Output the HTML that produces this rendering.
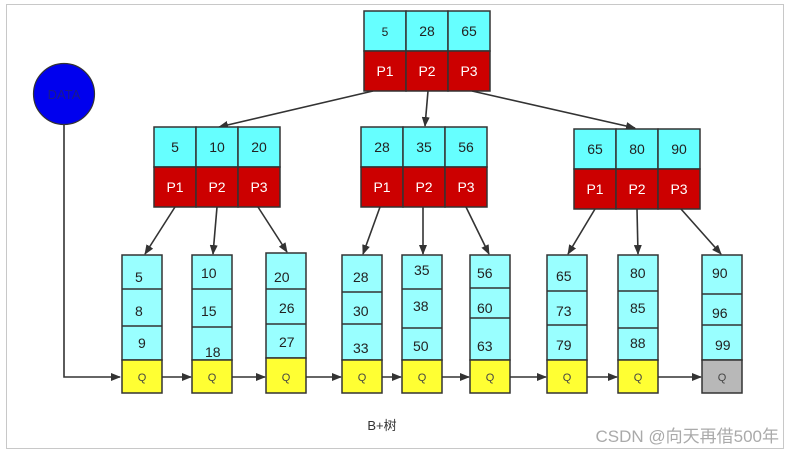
<!DOCTYPE html>
<html><head><meta charset="utf-8"><style>
html,body{margin:0;padding:0;background:#fff;}
svg{display:block;font-family:"Liberation Sans","DejaVu Sans",sans-serif;}
</style></head><body>
<svg width="795" height="455" viewBox="0 0 795 455" xmlns="http://www.w3.org/2000/svg">
<defs>
<marker id="a" markerWidth="10" markerHeight="8" refX="9" refY="4" orient="auto" markerUnits="userSpaceOnUse">
<path d="M0,0 L10,4 L0,8 z" fill="#333"/></marker>
</defs>
<rect x="6.5" y="4.5" width="777" height="444" fill="#fff" stroke="#c8c8c8"/>
<g stroke="#333" stroke-width="1.6" fill="none">
<path d="M64,125 V377 H120" marker-end="url(#a)"/>
<line x1="373" y1="91" x2="219" y2="127" marker-end="url(#a)"/>
<line x1="428" y1="91" x2="425" y2="126" marker-end="url(#a)"/>
<line x1="472" y1="91" x2="635" y2="128" marker-end="url(#a)"/>
<line x1="175" y1="207" x2="145" y2="254" marker-end="url(#a)"/>
<line x1="217" y1="207" x2="213" y2="254" marker-end="url(#a)"/>
<line x1="258" y1="207" x2="287" y2="252" marker-end="url(#a)"/>
<line x1="380" y1="207" x2="363" y2="254" marker-end="url(#a)"/>
<line x1="423" y1="207" x2="423" y2="254" marker-end="url(#a)"/>
<line x1="466" y1="207" x2="489" y2="254" marker-end="url(#a)"/>
<line x1="595" y1="209" x2="568" y2="254" marker-end="url(#a)"/>
<line x1="637" y1="209" x2="638" y2="254" marker-end="url(#a)"/>
<line x1="681" y1="209" x2="721" y2="254" marker-end="url(#a)"/>
<line x1="162" y1="377" x2="191" y2="377" marker-end="url(#a)"/>
<line x1="232" y1="377" x2="265" y2="377" marker-end="url(#a)"/>
<line x1="306" y1="377" x2="341" y2="377" marker-end="url(#a)"/>
<line x1="382" y1="377" x2="401" y2="377" marker-end="url(#a)"/>
<line x1="442" y1="377" x2="469" y2="377" marker-end="url(#a)"/>
<line x1="510" y1="377" x2="546" y2="377" marker-end="url(#a)"/>
<line x1="587" y1="377" x2="617" y2="377" marker-end="url(#a)"/>
<line x1="658" y1="377" x2="701" y2="377" marker-end="url(#a)"/>
</g>
<circle cx="64" cy="94" r="30.5" fill="#0000ee" stroke="#333" stroke-width="1.2"/>
<text x="64" y="99" font-size="13" fill="#1a1a8a" text-anchor="middle">DATA</text>

<g stroke="#333" stroke-width="1.5">
<!-- root -->
<rect x="364" y="11" width="42" height="40" fill="#66ffff"/><rect x="406" y="11" width="42" height="40" fill="#66ffff"/><rect x="448" y="11" width="42" height="40" fill="#66ffff"/>
<rect x="364" y="51" width="42" height="40" fill="#cc0000"/><rect x="406" y="51" width="42" height="40" fill="#cc0000"/><rect x="448" y="51" width="42" height="40" fill="#cc0000"/>
<!-- left -->
<rect x="154" y="127" width="42" height="40" fill="#66ffff"/><rect x="196" y="127" width="42" height="40" fill="#66ffff"/><rect x="238" y="127" width="42" height="40" fill="#66ffff"/>
<rect x="154" y="167" width="42" height="40" fill="#cc0000"/><rect x="196" y="167" width="42" height="40" fill="#cc0000"/><rect x="238" y="167" width="42" height="40" fill="#cc0000"/>
<!-- mid -->
<rect x="361" y="127" width="42" height="40" fill="#66ffff"/><rect x="403" y="127" width="42" height="40" fill="#66ffff"/><rect x="445" y="127" width="42" height="40" fill="#66ffff"/>
<rect x="361" y="167" width="42" height="40" fill="#cc0000"/><rect x="403" y="167" width="42" height="40" fill="#cc0000"/><rect x="445" y="167" width="42" height="40" fill="#cc0000"/>
<!-- right -->
<rect x="574" y="129" width="42" height="40" fill="#66ffff"/><rect x="616" y="129" width="42" height="40" fill="#66ffff"/><rect x="658" y="129" width="42" height="40" fill="#66ffff"/>
<rect x="574" y="169" width="42" height="40" fill="#cc0000"/><rect x="616" y="169" width="42" height="40" fill="#cc0000"/><rect x="658" y="169" width="42" height="40" fill="#cc0000"/>
</g>
<g font-size="14" text-anchor="middle" fill="#222">
<text x="385" y="36" font-size="12">5</text><text x="427" y="36">28</text><text x="469" y="36">65</text>
<text x="175" y="152">5</text><text x="217" y="152">10</text><text x="259" y="152">20</text>
<text x="382" y="152">28</text><text x="424" y="152">35</text><text x="466" y="152">56</text>
<text x="595" y="154">65</text><text x="637" y="154">80</text><text x="679" y="154">90</text>
</g>
<g font-size="14" text-anchor="middle" fill="#fff">
<text x="385" y="76">P1</text><text x="427" y="76">P2</text><text x="469" y="76">P3</text>
<text x="175" y="192">P1</text><text x="217" y="192">P2</text><text x="259" y="192">P3</text>
<text x="382" y="192">P1</text><text x="424" y="192">P2</text><text x="466" y="192">P3</text>
<text x="595" y="194">P1</text><text x="637" y="194">P2</text><text x="679" y="194">P3</text>
</g>

<!-- leaves -->
<g stroke="#333" stroke-width="1.5">
<rect x="122" y="255" width="40" height="105" fill="#99ffff"/><line x1="122" y1="289" x2="162" y2="289"/><line x1="122" y1="326" x2="162" y2="326"/><rect x="122" y="360" width="40" height="33" fill="#ffff33"/>
<rect x="192" y="255" width="40" height="105" fill="#99ffff"/><line x1="192" y1="289" x2="232" y2="289"/><line x1="192" y1="327" x2="232" y2="327"/><rect x="192" y="360" width="40" height="33" fill="#ffff33"/>
<rect x="266" y="253" width="40" height="105" fill="#99ffff"/><line x1="266" y1="289" x2="306" y2="289"/><line x1="266" y1="324" x2="306" y2="324"/><rect x="266" y="358" width="40" height="35" fill="#ffff33"/>
<rect x="342" y="255" width="40" height="105" fill="#99ffff"/><line x1="342" y1="292" x2="382" y2="292"/><line x1="342" y1="324" x2="382" y2="324"/><rect x="342" y="360" width="40" height="33" fill="#ffff33"/>
<rect x="402" y="255" width="40" height="105" fill="#99ffff"/><line x1="402" y1="289" x2="442" y2="289"/><line x1="402" y1="328" x2="442" y2="328"/><rect x="402" y="360" width="40" height="33" fill="#ffff33"/>
<rect x="470" y="255" width="40" height="105" fill="#99ffff"/><line x1="470" y1="288" x2="510" y2="288"/><line x1="470" y1="318" x2="510" y2="318"/><rect x="470" y="360" width="40" height="33" fill="#ffff33"/>
<rect x="547" y="255" width="40" height="105" fill="#99ffff"/><line x1="547" y1="291" x2="587" y2="291"/><line x1="547" y1="325" x2="587" y2="325"/><rect x="547" y="360" width="40" height="33" fill="#ffff33"/>
<rect x="618" y="255" width="40" height="105" fill="#99ffff"/><line x1="618" y1="291" x2="658" y2="291"/><line x1="618" y1="328" x2="658" y2="328"/><rect x="618" y="360" width="40" height="33" fill="#ffff33"/>
<rect x="702" y="255" width="40" height="105" fill="#99ffff"/><line x1="702" y1="294" x2="742" y2="294"/><line x1="702" y1="325" x2="742" y2="325"/><rect x="702" y="360" width="40" height="33" fill="#b8b8b8"/>
</g>
<g font-size="14" fill="#222">
<text x="135" y="282">5</text><text x="135" y="316">8</text><text x="138" y="348">9</text>
<text x="201" y="278">10</text><text x="201" y="316">15</text><text x="205" y="357">18</text>
<text x="274" y="282">20</text><text x="279" y="313">26</text><text x="279" y="347">27</text>
<text x="353" y="282">28</text><text x="353" y="316">30</text><text x="353" y="353">33</text>
<text x="414" y="275">35</text><text x="413" y="311">38</text><text x="413" y="351">50</text>
<text x="477" y="278">56</text><text x="477" y="313">60</text><text x="477" y="351">63</text>
<text x="556" y="281">65</text><text x="556" y="316">73</text><text x="556" y="350">79</text>
<text x="630" y="278">80</text><text x="630" y="313">85</text><text x="630" y="348">88</text>
<text x="712" y="278">90</text><text x="712" y="318">96</text><text x="715" y="350">99</text>
</g>
<g font-size="11" fill="#444" text-anchor="middle">
<text x="142" y="381">Q</text><text x="212" y="381">Q</text><text x="286" y="381">Q</text><text x="362" y="381">Q</text><text x="422" y="381">Q</text><text x="490" y="381">Q</text><text x="567" y="381">Q</text><text x="638" y="381">Q</text><text x="722" y="381">Q</text>
</g>
<text x="382" y="430" font-size="13" fill="#333" text-anchor="middle" font-family="'Liberation Sans','Noto Sans CJK SC',sans-serif">B+树</text>
<text x="779" y="442" font-size="17" fill="#aaa" text-anchor="end" font-family="'Liberation Sans','Noto Sans CJK SC',sans-serif">CSDN @向天再借500年</text>
</svg>
</body></html>
